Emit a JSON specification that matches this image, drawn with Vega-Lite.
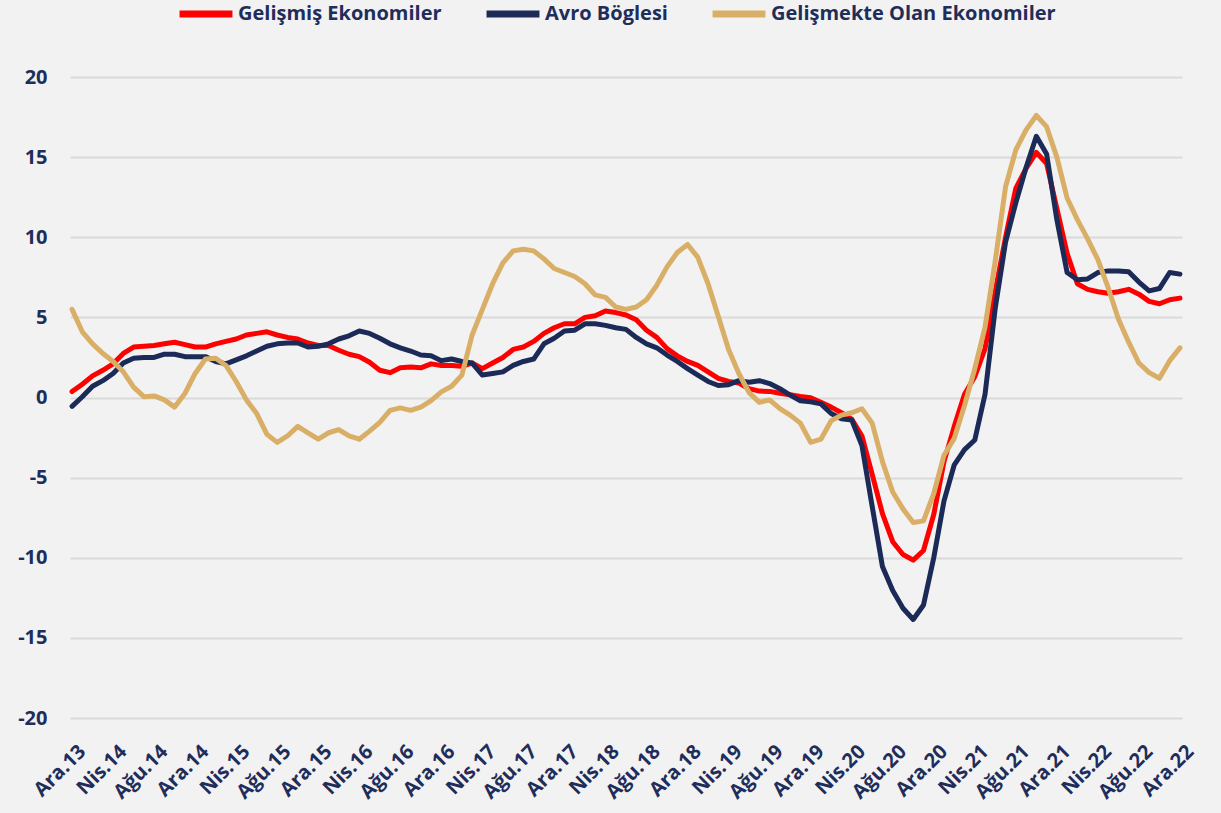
{
  "$schema": "https://vega.github.io/schema/vega-lite/v6.json",
  "width": 1112,
  "height": 641,
  "autosize": "none",
  "padding": {"left": 70, "top": 77, "right": 39, "bottom": 95},
  "background": "#f2f2f2",
  "config": {"view": {"stroke": null}, "font": "Open Sans"},
  "data": {"values": [
    {"ay":"Ara.13","Gelişmiş Ekonomiler":0.37,"Avro Böglesi":-0.55,"Gelişmekte Olan Ekonomiler":5.5},
    {"ay":"Oca.14","Gelişmiş Ekonomiler":0.83,"Avro Böglesi":0.05,"Gelişmekte Olan Ekonomiler":4.1},
    {"ay":"Şub.14","Gelişmiş Ekonomiler":1.35,"Avro Böglesi":0.7,"Gelişmekte Olan Ekonomiler":3.35},
    {"ay":"Mar.14","Gelişmiş Ekonomiler":1.7,"Avro Böglesi":1.05,"Gelişmekte Olan Ekonomiler":2.75},
    {"ay":"Nis.14","Gelişmiş Ekonomiler":2.1,"Avro Böglesi":1.5,"Gelişmekte Olan Ekonomiler":2.25},
    {"ay":"May.14","Gelişmiş Ekonomiler":2.75,"Avro Böglesi":2.15,"Gelişmekte Olan Ekonomiler":1.6},
    {"ay":"Haz.14","Gelişmiş Ekonomiler":3.15,"Avro Böglesi":2.45,"Gelişmekte Olan Ekonomiler":0.65},
    {"ay":"Tem.14","Gelişmiş Ekonomiler":3.2,"Avro Böglesi":2.5,"Gelişmekte Olan Ekonomiler":0.05},
    {"ay":"Ağu.14","Gelişmiş Ekonomiler":3.25,"Avro Böglesi":2.5,"Gelişmekte Olan Ekonomiler":0.1},
    {"ay":"Eyl.14","Gelişmiş Ekonomiler":3.35,"Avro Böglesi":2.7,"Gelişmekte Olan Ekonomiler":-0.15},
    {"ay":"Eki.14","Gelişmiş Ekonomiler":3.45,"Avro Böglesi":2.7,"Gelişmekte Olan Ekonomiler":-0.6},
    {"ay":"Kas.14","Gelişmiş Ekonomiler":3.3,"Avro Böglesi":2.55,"Gelişmekte Olan Ekonomiler":0.25},
    {"ay":"Ara.14","Gelişmiş Ekonomiler":3.15,"Avro Böglesi":2.55,"Gelişmekte Olan Ekonomiler":1.5},
    {"ay":"Oca.15","Gelişmiş Ekonomiler":3.15,"Avro Böglesi":2.55,"Gelişmekte Olan Ekonomiler":2.4},
    {"ay":"Şub.15","Gelişmiş Ekonomiler":3.35,"Avro Böglesi":2.25,"Gelişmekte Olan Ekonomiler":2.45},
    {"ay":"Mar.15","Gelişmiş Ekonomiler":3.5,"Avro Böglesi":2.1,"Gelişmekte Olan Ekonomiler":2.0},
    {"ay":"Nis.15","Gelişmiş Ekonomiler":3.65,"Avro Böglesi":2.35,"Gelişmekte Olan Ekonomiler":1.0},
    {"ay":"May.15","Gelişmiş Ekonomiler":3.9,"Avro Böglesi":2.6,"Gelişmekte Olan Ekonomiler":-0.15},
    {"ay":"Haz.15","Gelişmiş Ekonomiler":4.0,"Avro Böglesi":2.9,"Gelişmekte Olan Ekonomiler":-1.0},
    {"ay":"Tem.15","Gelişmiş Ekonomiler":4.1,"Avro Böglesi":3.2,"Gelişmekte Olan Ekonomiler":-2.3},
    {"ay":"Ağu.15","Gelişmiş Ekonomiler":3.9,"Avro Böglesi":3.35,"Gelişmekte Olan Ekonomiler":-2.8},
    {"ay":"Eyl.15","Gelişmiş Ekonomiler":3.75,"Avro Böglesi":3.4,"Gelişmekte Olan Ekonomiler":-2.4},
    {"ay":"Eki.15","Gelişmiş Ekonomiler":3.65,"Avro Böglesi":3.4,"Gelişmekte Olan Ekonomiler":-1.8},
    {"ay":"Kas.15","Gelişmiş Ekonomiler":3.4,"Avro Böglesi":3.15,"Gelişmekte Olan Ekonomiler":-2.2},
    {"ay":"Ara.15","Gelişmiş Ekonomiler":3.25,"Avro Böglesi":3.2,"Gelişmekte Olan Ekonomiler":-2.6},
    {"ay":"Oca.16","Gelişmiş Ekonomiler":3.25,"Avro Böglesi":3.35,"Gelişmekte Olan Ekonomiler":-2.2},
    {"ay":"Şub.16","Gelişmiş Ekonomiler":2.95,"Avro Böglesi":3.65,"Gelişmekte Olan Ekonomiler":-2.0},
    {"ay":"Mar.16","Gelişmiş Ekonomiler":2.7,"Avro Böglesi":3.85,"Gelişmekte Olan Ekonomiler":-2.4},
    {"ay":"Nis.16","Gelişmiş Ekonomiler":2.55,"Avro Böglesi":4.15,"Gelişmekte Olan Ekonomiler":-2.6},
    {"ay":"May.16","Gelişmiş Ekonomiler":2.2,"Avro Böglesi":4.0,"Gelişmekte Olan Ekonomiler":-2.1},
    {"ay":"Haz.16","Gelişmiş Ekonomiler":1.7,"Avro Böglesi":3.7,"Gelişmekte Olan Ekonomiler":-1.55},
    {"ay":"Tem.16","Gelişmiş Ekonomiler":1.55,"Avro Böglesi":3.35,"Gelişmekte Olan Ekonomiler":-0.8},
    {"ay":"Ağu.16","Gelişmiş Ekonomiler":1.85,"Avro Böglesi":3.1,"Gelişmekte Olan Ekonomiler":-0.65},
    {"ay":"Eyl.16","Gelişmiş Ekonomiler":1.9,"Avro Böglesi":2.9,"Gelişmekte Olan Ekonomiler":-0.8},
    {"ay":"Eki.16","Gelişmiş Ekonomiler":1.85,"Avro Böglesi":2.65,"Gelişmekte Olan Ekonomiler":-0.6},
    {"ay":"Kas.16","Gelişmiş Ekonomiler":2.1,"Avro Böglesi":2.6,"Gelişmekte Olan Ekonomiler":-0.2},
    {"ay":"Ara.16","Gelişmiş Ekonomiler":2.0,"Avro Böglesi":2.3,"Gelişmekte Olan Ekonomiler":0.35},
    {"ay":"Oca.17","Gelişmiş Ekonomiler":2.0,"Avro Böglesi":2.4,"Gelişmekte Olan Ekonomiler":0.7},
    {"ay":"Şub.17","Gelişmiş Ekonomiler":1.95,"Avro Böglesi":2.25,"Gelişmekte Olan Ekonomiler":1.4},
    {"ay":"Mar.17","Gelişmiş Ekonomiler":2.15,"Avro Böglesi":2.15,"Gelişmekte Olan Ekonomiler":3.9},
    {"ay":"Nis.17","Gelişmiş Ekonomiler":1.8,"Avro Böglesi":1.4,"Gelişmekte Olan Ekonomiler":5.5},
    {"ay":"May.17","Gelişmiş Ekonomiler":2.15,"Avro Böglesi":1.5,"Gelişmekte Olan Ekonomiler":7.1},
    {"ay":"Haz.17","Gelişmiş Ekonomiler":2.5,"Avro Böglesi":1.6,"Gelişmekte Olan Ekonomiler":8.4},
    {"ay":"Tem.17","Gelişmiş Ekonomiler":3.0,"Avro Böglesi":2.0,"Gelişmekte Olan Ekonomiler":9.15},
    {"ay":"Ağu.17","Gelişmiş Ekonomiler":3.15,"Avro Böglesi":2.25,"Gelişmekte Olan Ekonomiler":9.25},
    {"ay":"Eyl.17","Gelişmiş Ekonomiler":3.5,"Avro Böglesi":2.4,"Gelişmekte Olan Ekonomiler":9.15},
    {"ay":"Eki.17","Gelişmiş Ekonomiler":4.0,"Avro Böglesi":3.35,"Gelişmekte Olan Ekonomiler":8.65},
    {"ay":"Kas.17","Gelişmiş Ekonomiler":4.35,"Avro Böglesi":3.7,"Gelişmekte Olan Ekonomiler":8.05},
    {"ay":"Ara.17","Gelişmiş Ekonomiler":4.6,"Avro Böglesi":4.15,"Gelişmekte Olan Ekonomiler":7.8},
    {"ay":"Oca.18","Gelişmiş Ekonomiler":4.6,"Avro Böglesi":4.2,"Gelişmekte Olan Ekonomiler":7.55},
    {"ay":"Şub.18","Gelişmiş Ekonomiler":5.0,"Avro Böglesi":4.6,"Gelişmekte Olan Ekonomiler":7.1},
    {"ay":"Mar.18","Gelişmiş Ekonomiler":5.1,"Avro Böglesi":4.6,"Gelişmekte Olan Ekonomiler":6.4},
    {"ay":"Nis.18","Gelişmiş Ekonomiler":5.4,"Avro Böglesi":4.5,"Gelişmekte Olan Ekonomiler":6.25},
    {"ay":"May.18","Gelişmiş Ekonomiler":5.3,"Avro Böglesi":4.35,"Gelişmekte Olan Ekonomiler":5.65},
    {"ay":"Haz.18","Gelişmiş Ekonomiler":5.15,"Avro Böglesi":4.25,"Gelişmekte Olan Ekonomiler":5.5},
    {"ay":"Tem.18","Gelişmiş Ekonomiler":4.85,"Avro Böglesi":3.75,"Gelişmekte Olan Ekonomiler":5.65},
    {"ay":"Ağu.18","Gelişmiş Ekonomiler":4.2,"Avro Böglesi":3.35,"Gelişmekte Olan Ekonomiler":6.1},
    {"ay":"Eyl.18","Gelişmiş Ekonomiler":3.75,"Avro Böglesi":3.1,"Gelişmekte Olan Ekonomiler":7.0},
    {"ay":"Eki.18","Gelişmiş Ekonomiler":3.05,"Avro Böglesi":2.65,"Gelişmekte Olan Ekonomiler":8.15},
    {"ay":"Kas.18","Gelişmiş Ekonomiler":2.6,"Avro Böglesi":2.25,"Gelişmekte Olan Ekonomiler":9.05},
    {"ay":"Ara.18","Gelişmiş Ekonomiler":2.25,"Avro Böglesi":1.8,"Gelişmekte Olan Ekonomiler":9.55},
    {"ay":"Oca.19","Gelişmiş Ekonomiler":2.0,"Avro Böglesi":1.4,"Gelişmekte Olan Ekonomiler":8.75},
    {"ay":"Şub.19","Gelişmiş Ekonomiler":1.6,"Avro Böglesi":1.0,"Gelişmekte Olan Ekonomiler":7.1},
    {"ay":"Mar.19","Gelişmiş Ekonomiler":1.2,"Avro Böglesi":0.75,"Gelişmekte Olan Ekonomiler":5.05},
    {"ay":"Nis.19","Gelişmiş Ekonomiler":1.0,"Avro Böglesi":0.8,"Gelişmekte Olan Ekonomiler":3.0},
    {"ay":"May.19","Gelişmiş Ekonomiler":0.9,"Avro Böglesi":1.05,"Gelişmekte Olan Ekonomiler":1.5},
    {"ay":"Haz.19","Gelişmiş Ekonomiler":0.55,"Avro Böglesi":0.95,"Gelişmekte Olan Ekonomiler":0.3},
    {"ay":"Tem.19","Gelişmiş Ekonomiler":0.4,"Avro Böglesi":1.05,"Gelişmekte Olan Ekonomiler":-0.3},
    {"ay":"Ağu.19","Gelişmiş Ekonomiler":0.38,"Avro Böglesi":0.87,"Gelişmekte Olan Ekonomiler":-0.15},
    {"ay":"Eyl.19","Gelişmiş Ekonomiler":0.27,"Avro Böglesi":0.55,"Gelişmekte Olan Ekonomiler":-0.7},
    {"ay":"Eki.19","Gelişmiş Ekonomiler":0.17,"Avro Böglesi":0.15,"Gelişmekte Olan Ekonomiler":-1.1},
    {"ay":"Kas.19","Gelişmiş Ekonomiler":0.06,"Avro Böglesi":-0.2,"Gelişmekte Olan Ekonomiler":-1.6},
    {"ay":"Ara.19","Gelişmiş Ekonomiler":-0.02,"Avro Böglesi":-0.27,"Gelişmekte Olan Ekonomiler":-2.8},
    {"ay":"Oca.20","Gelişmiş Ekonomiler":-0.3,"Avro Böglesi":-0.4,"Gelişmekte Olan Ekonomiler":-2.6},
    {"ay":"Şub.20","Gelişmiş Ekonomiler":-0.6,"Avro Böglesi":-1.0,"Gelişmekte Olan Ekonomiler":-1.45},
    {"ay":"Mar.20","Gelişmiş Ekonomiler":-0.95,"Avro Böglesi":-1.33,"Gelişmekte Olan Ekonomiler":-1.1},
    {"ay":"Nis.20","Gelişmiş Ekonomiler":-1.35,"Avro Böglesi":-1.4,"Gelişmekte Olan Ekonomiler":-0.95},
    {"ay":"May.20","Gelişmiş Ekonomiler":-2.4,"Avro Böglesi":-3.0,"Gelişmekte Olan Ekonomiler":-0.7},
    {"ay":"Haz.20","Gelişmiş Ekonomiler":-4.8,"Avro Böglesi":-6.8,"Gelişmekte Olan Ekonomiler":-1.6},
    {"ay":"Tem.20","Gelişmiş Ekonomiler":-7.25,"Avro Böglesi":-10.55,"Gelişmekte Olan Ekonomiler":-4.0},
    {"ay":"Ağu.20","Gelişmiş Ekonomiler":-9.0,"Avro Böglesi":-12.05,"Gelişmekte Olan Ekonomiler":-5.9},
    {"ay":"Eyl.20","Gelişmiş Ekonomiler":-9.8,"Avro Böglesi":-13.15,"Gelişmekte Olan Ekonomiler":-6.95},
    {"ay":"Eki.20","Gelişmiş Ekonomiler":-10.15,"Avro Böglesi":-13.85,"Gelişmekte Olan Ekonomiler":-7.8},
    {"ay":"Kas.20","Gelişmiş Ekonomiler":-9.55,"Avro Böglesi":-12.95,"Gelişmekte Olan Ekonomiler":-7.7},
    {"ay":"Ara.20","Gelişmiş Ekonomiler":-7.3,"Avro Böglesi":-10.0,"Gelişmekte Olan Ekonomiler":-6.0},
    {"ay":"Oca.21","Gelişmiş Ekonomiler":-4.0,"Avro Böglesi":-6.45,"Gelişmekte Olan Ekonomiler":-3.6},
    {"ay":"Şub.21","Gelişmiş Ekonomiler":-1.8,"Avro Böglesi":-4.2,"Gelişmekte Olan Ekonomiler":-2.55},
    {"ay":"Mar.21","Gelişmiş Ekonomiler":0.2,"Avro Böglesi":-3.25,"Gelişmekte Olan Ekonomiler":-0.5},
    {"ay":"Nis.21","Gelişmiş Ekonomiler":1.3,"Avro Böglesi":-2.65,"Gelişmekte Olan Ekonomiler":1.8},
    {"ay":"May.21","Gelişmiş Ekonomiler":3.05,"Avro Böglesi":0.2,"Gelişmekte Olan Ekonomiler":4.4},
    {"ay":"Haz.21","Gelişmiş Ekonomiler":6.65,"Avro Böglesi":5.6,"Gelişmekte Olan Ekonomiler":8.55},
    {"ay":"Tem.21","Gelişmiş Ekonomiler":10.0,"Avro Böglesi":9.7,"Gelişmekte Olan Ekonomiler":13.15},
    {"ay":"Ağu.21","Gelişmiş Ekonomiler":13.05,"Avro Böglesi":12.15,"Gelişmekte Olan Ekonomiler":15.45},
    {"ay":"Eyl.21","Gelişmiş Ekonomiler":14.3,"Avro Böglesi":14.35,"Gelişmekte Olan Ekonomiler":16.7},
    {"ay":"Eki.21","Gelişmiş Ekonomiler":15.3,"Avro Böglesi":16.3,"Gelişmekte Olan Ekonomiler":17.6},
    {"ay":"Kas.21","Gelişmiş Ekonomiler":14.6,"Avro Böglesi":15.2,"Gelişmekte Olan Ekonomiler":16.9},
    {"ay":"Ara.21","Gelişmiş Ekonomiler":11.8,"Avro Böglesi":11.1,"Gelişmekte Olan Ekonomiler":15.0},
    {"ay":"Oca.22","Gelişmiş Ekonomiler":9.0,"Avro Böglesi":7.8,"Gelişmekte Olan Ekonomiler":12.45},
    {"ay":"Şub.22","Gelişmiş Ekonomiler":7.1,"Avro Böglesi":7.35,"Gelişmekte Olan Ekonomiler":11.1},
    {"ay":"Mar.22","Gelişmiş Ekonomiler":6.75,"Avro Böglesi":7.4,"Gelişmekte Olan Ekonomiler":9.9},
    {"ay":"Nis.22","Gelişmiş Ekonomiler":6.6,"Avro Böglesi":7.8,"Gelişmekte Olan Ekonomiler":8.6},
    {"ay":"May.22","Gelişmiş Ekonomiler":6.5,"Avro Böglesi":7.9,"Gelişmekte Olan Ekonomiler":6.85},
    {"ay":"Haz.22","Gelişmiş Ekonomiler":6.6,"Avro Böglesi":7.9,"Gelişmekte Olan Ekonomiler":4.9},
    {"ay":"Tem.22","Gelişmiş Ekonomiler":6.75,"Avro Böglesi":7.85,"Gelişmekte Olan Ekonomiler":3.45},
    {"ay":"Ağu.22","Gelişmiş Ekonomiler":6.45,"Avro Böglesi":7.2,"Gelişmekte Olan Ekonomiler":2.15},
    {"ay":"Eyl.22","Gelişmiş Ekonomiler":6.0,"Avro Böglesi":6.65,"Gelişmekte Olan Ekonomiler":1.55},
    {"ay":"Eki.22","Gelişmiş Ekonomiler":5.85,"Avro Böglesi":6.8,"Gelişmekte Olan Ekonomiler":1.2},
    {"ay":"Kas.22","Gelişmiş Ekonomiler":6.1,"Avro Böglesi":7.8,"Gelişmekte Olan Ekonomiler":2.3},
    {"ay":"Ara.22","Gelişmiş Ekonomiler":6.2,"Avro Böglesi":7.7,"Gelişmekte Olan Ekonomiler":3.1}
  ]},
  "transform": [
    {"fold": ["Gelişmiş Ekonomiler", "Avro Böglesi", "Gelişmekte Olan Ekonomiler"], "as": ["seri", "deger"]}
  ],
  "mark": {"type": "line", "strokeWidth": 5, "strokeJoin": "round", "strokeCap": "round"},
  "encoding": {
    "x": {
      "field": "ay", "type": "ordinal", "sort": null,
      "scale": {"type": "point", "padding": 0.2},
      "axis": {
        "title": null, "domain": false, "ticks": false, "grid": false,
        "values": ["Ara.13","Nis.14","Ağu.14","Ara.14","Nis.15","Ağu.15","Ara.15","Nis.16","Ağu.16","Ara.16","Nis.17","Ağu.17","Ara.17","Nis.18","Ağu.18","Ara.18","Nis.19","Ağu.19","Ara.19","Nis.20","Ağu.20","Ara.20","Nis.21","Ağu.21","Ara.21","Nis.22","Ağu.22","Ara.22"],
        "labelAngle": -45, "labelAlign": "right", "labelBaseline": "top",
        "labelPadding": 23, "labelOffset": 3,
        "labelFontSize": 20, "labelFontWeight": "bold", "labelColor": "#1f2d5a",
        "labelOverlap": false
      }
    },
    "y": {
      "field": "deger", "type": "quantitative",
      "scale": {"domain": [-20, 20], "nice": false},
      "axis": {
        "title": null, "domain": false, "ticks": false,
        "values": [-20, -15, -10, -5, 0, 5, 10, 15, 20],
        "labelExpr": "toString(datum.value)",
        "grid": true, "gridColor": "#d9d9d9", "gridWidth": 2,
        "labelPadding": 23, "labelFontSize": 20, "labelFontWeight": "bold", "labelColor": "#1f2d5a"
      }
    },
    "color": {
      "field": "seri", "type": "nominal",
      "scale": {"domain": ["Gelişmiş Ekonomiler", "Avro Böglesi", "Gelişmekte Olan Ekonomiler"], "range": ["#ff0000", "#1b2a57", "#d9af68"]},
      "legend": {
        "title": null, "orient": "none", "direction": "horizontal",
        "legendX": 106, "legendY": -93,
        "symbolType": "stroke", "symbolSize": 2800, "symbolStrokeWidth": 7,
        "labelFontSize": 20, "labelFontWeight": "bold", "labelColor": "#1f2d5a",
        "labelOffset": 2, "columnPadding": 30, "labelLimit": 400
      }
    }
  }
}
